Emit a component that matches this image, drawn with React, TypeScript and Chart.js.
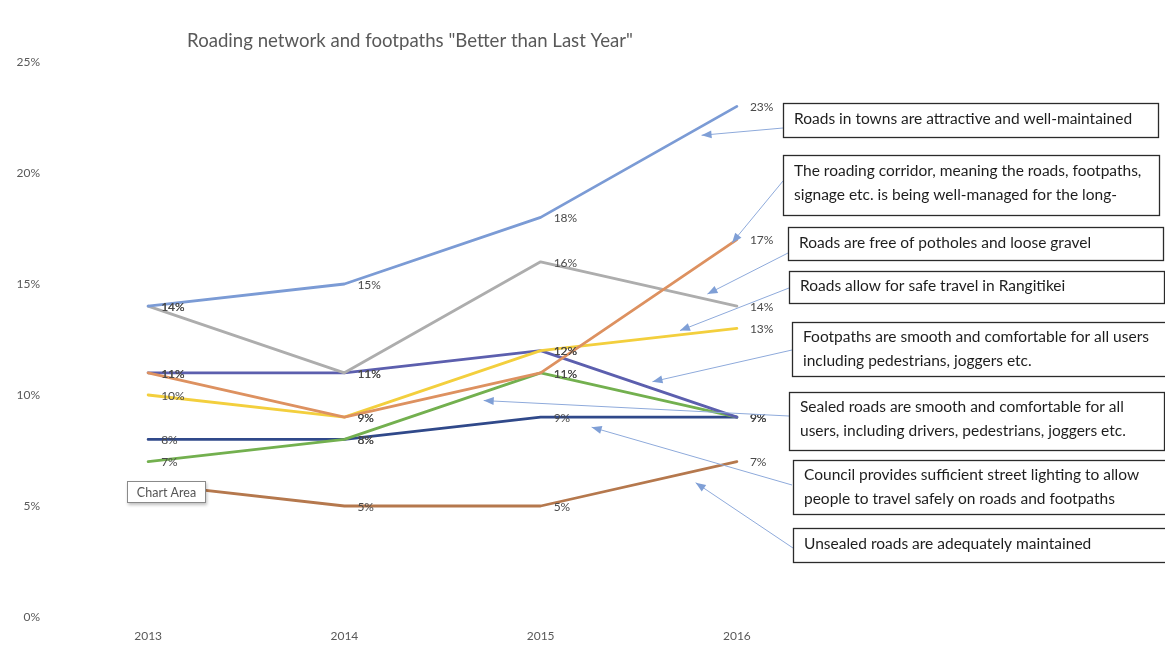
import React, { useEffect, useRef } from "react";
import { Chart, registerables } from "chart.js";

Chart.register(...registerables);

// ---------- data ----------
const years = ["2013", "2014", "2015", "2016"];
const townsAttractive = [14, 15, 18, 23];
const corridorManaged = [11, 9, 11, 17];
const potholesFree = [14, 11, 16, 14];
const safeTravel = [10, 9, 12, 13];
const footpathsSmooth = [11, 11, 12, 9];
const sealedSmooth = [7, 8, 11, 9];
const streetLighting = [8, 8, 9, 9];
const unsealedMaintained = [6, 5, 5, 7];
const yTickStep = 5;
const yMax = 25;

const chartTitle = 'Roading network and footpaths "Better than Last Year"';

const seriesNames = [
  "Roads in towns are attractive and well-maintained",
  "The roading corridor, meaning the roads, footpaths, signage etc. is being well-managed for the long-",
  "Roads are free of potholes and loose gravel",
  "Roads allow for safe travel in Rangitikei",
  "Footpaths are smooth and comfortable for all users including pedestrians, joggers etc.",
  "Sealed roads are smooth and comfortable for all users, including drivers, pedestrians, joggers etc.",
  "Council provides sufficient street lighting to allow people to travel safely on roads and footpaths",
  "Unsealed roads are adequately maintained",
];

const boxTexts = [
  ["Roads in towns are attractive and well-maintained"],
  ["The roading corridor, meaning the roads, footpaths,", "signage etc. is being well-managed for the long-"],
  ["Roads are free of potholes and loose gravel"],
  ["Roads allow for safe travel in Rangitikei"],
  ["Footpaths are smooth and comfortable for all users", "including pedestrians, joggers etc."],
  ["Sealed roads are smooth and comfortable for all", "users, including drivers, pedestrians, joggers etc."],
  ["Council provides sufficient street lighting to allow", "people to travel safely on roads and footpaths"],
  ["Unsealed roads are adequately maintained"],
];

// ---------- styles / layout ----------
const colors = ["#7b9bd5", "#dd9160", "#adadad", "#f3cf3d", "#5c5fae", "#73b04f", "#30498a", "#b5784d"];
const FONT = "Lato, 'Open Sans', sans-serif";

// annotation box layout in pixels
const boxLayout = [
  { x: 783, y: 103, w: 375, h: 34, lines: [119] },
  { x: 783, y: 155, w: 376, h: 60, lines: [171, 195] },
  { x: 788, y: 227, w: 375, h: 33, lines: [243] },
  { x: 789, y: 271, w: 375, h: 32, lines: [286] },
  { x: 792, y: 322, w: 375, h: 54, lines: [337, 361] },
  { x: 789, y: 392, w: 375, h: 58, lines: [407, 431] },
  { x: 793, y: 460, w: 375, h: 54, lines: [475, 499] },
  { x: 793, y: 528, w: 375, h: 34, lines: [544] },
];
// arrows: tail in pixels (box edge), tip in data space (category index, value)
const arrowLayout = [
  { tx: 783, ty: 128, ix: 2.82, iv: 21.7 },
  { tx: 783, ty: 181, ix: 2.975, iv: 16.85 },
  { tx: 788, ty: 253, ix: 2.85, iv: 14.55 },
  { tx: 789, ty: 288, ix: 2.71, iv: 12.9 },
  { tx: 792, ty: 350, ix: 2.57, iv: 10.6 },
  { tx: 789, ty: 416, ix: 1.71, iv: 9.75 },
  { tx: 792, ty: 485, ix: 2.26, iv: 8.55 },
  { tx: 793, ty: 548, ix: 2.79, iv: 6.05 },
];

const annotationPlugin = {
  id: "annotations",
  afterDraw(chart: any) {
    const ctx: CanvasRenderingContext2D = chart.ctx;
    const xs = chart.scales.x;
    const ys = chart.scales.y;
    ctx.save();

    // data labels
    ctx.font = `12px ${FONT}`;
    ctx.fillStyle = "#4a4a4a";
    ctx.textAlign = "left";
    ctx.textBaseline = "middle";
    chart.data.datasets.forEach((ds: any, di: number) => {
      const meta = chart.getDatasetMeta(di);
      meta.data.forEach((pt: any, i: number) => {
        ctx.fillText(`${ds.data[i]}%`, pt.x + 13, pt.y + 1);
      });
    });

    // title
    ctx.font = `18.6px ${FONT}`;
    ctx.fillStyle = "#595959";
    ctx.textAlign = "center";
    ctx.fillText(chartTitle, 410, 41);

    // arrows
    ctx.strokeStyle = "#8eaadb";
    ctx.fillStyle = "#7f9fd6";
    ctx.lineWidth = 1;
    arrowLayout.forEach((a) => {
      const px = xs.getPixelForValue(a.ix);
      const py = ys.getPixelForValue(a.iv);
      const ang = Math.atan2(py - a.ty, px - a.tx);
      ctx.beginPath();
      ctx.moveTo(a.tx, a.ty);
      ctx.lineTo(px, py);
      ctx.stroke();
      const L = 10, W = 4;
      ctx.beginPath();
      ctx.moveTo(px, py);
      ctx.lineTo(px - L * Math.cos(ang) + W * Math.sin(ang), py - L * Math.sin(ang) - W * Math.cos(ang));
      ctx.lineTo(px - L * Math.cos(ang) - W * Math.sin(ang), py - L * Math.sin(ang) + W * Math.cos(ang));
      ctx.closePath();
      ctx.fill();
    });

    // boxes
    boxLayout.forEach((b, i) => {
      ctx.fillStyle = "#ffffff";
      ctx.fillRect(b.x, b.y, b.w, b.h);
      ctx.strokeStyle = "#2b2b2b";
      ctx.lineWidth = 1.3;
      ctx.strokeRect(b.x + 0.5, b.y + 0.5, b.w, b.h);
      ctx.fillStyle = "#1e1e1e";
      ctx.font = `15.5px ${FONT}`;
      ctx.textAlign = "left";
      ctx.textBaseline = "middle";
      boxTexts[i].forEach((t, li) => ctx.fillText(t, b.x + 11, b.lines[li]));
    });

    // "Chart Area" tooltip
    ctx.shadowColor = "rgba(0,0,0,0.25)";
    ctx.shadowBlur = 3;
    ctx.shadowOffsetX = 1;
    ctx.shadowOffsetY = 2;
    ctx.fillStyle = "#ffffff";
    ctx.fillRect(127, 481, 79, 22);
    ctx.shadowColor = "transparent";
    ctx.strokeStyle = "#8a8a8a";
    ctx.lineWidth = 1;
    ctx.strokeRect(127.5, 481.5, 78, 21);
    ctx.fillStyle = "#555555";
    ctx.font = `12.5px ${FONT}`;
    ctx.textAlign = "center";
    ctx.textBaseline = "middle";
    ctx.fillText("Chart Area", 166.5, 492.5);

    ctx.restore();
  },
};

export default function App() {
  const ref = useRef<HTMLCanvasElement | null>(null);

  useEffect(() => {
    if (!ref.current) return;
    const series = [
      townsAttractive,
      corridorManaged,
      potholesFree,
      safeTravel,
      footpathsSmooth,
      sealedSmooth,
      streetLighting,
      unsealedMaintained,
    ];
    const chart = new Chart(ref.current, {
      type: "line",
      data: {
        labels: years,
        datasets: series.map((d, i) => ({
          label: seriesNames[i],
          data: d,
          borderColor: colors[i],
          backgroundColor: colors[i],
          borderWidth: 2.8,
          pointRadius: 0,
          tension: 0,
          borderJoinStyle: "round" as const,
          borderCapStyle: "round" as const,
        })),
      },
      options: {
        responsive: false,
        animation: false,
        layout: { padding: { top: 62, right: 330, bottom: 0, left: 0 } },
        plugins: { legend: { display: false }, tooltip: { enabled: false }, title: { display: false } },
        scales: {
          x: {
            type: "category",
            offset: true,
            grid: { display: false, drawTicks: false },
            border: { display: false },
            ticks: { color: "#595959", font: { family: FONT, size: 12 }, padding: 12 },
            afterFit: (s: any) => {
              s.height = 33;
            },
          },
          y: {
            min: 0,
            max: yMax,
            grid: { display: false, drawTicks: false },
            border: { display: false },
            ticks: {
              stepSize: yTickStep,
              color: "#595959",
              font: { family: FONT, size: 12 },
              padding: 10,
              callback: (v: any) => `${v}%`,
            },
            afterFit: (s: any) => {
              s.width = 50;
            },
          },
        },
      },
      plugins: [annotationPlugin],
    });
    return () => chart.destroy();
  }, []);

  return (
    <div style={{ position: "fixed", left: 0, top: 0, width: 1165, height: 650, background: "#ffffff" }}>
      <canvas ref={ref} width={1165} height={650} />
    </div>
  );
}
